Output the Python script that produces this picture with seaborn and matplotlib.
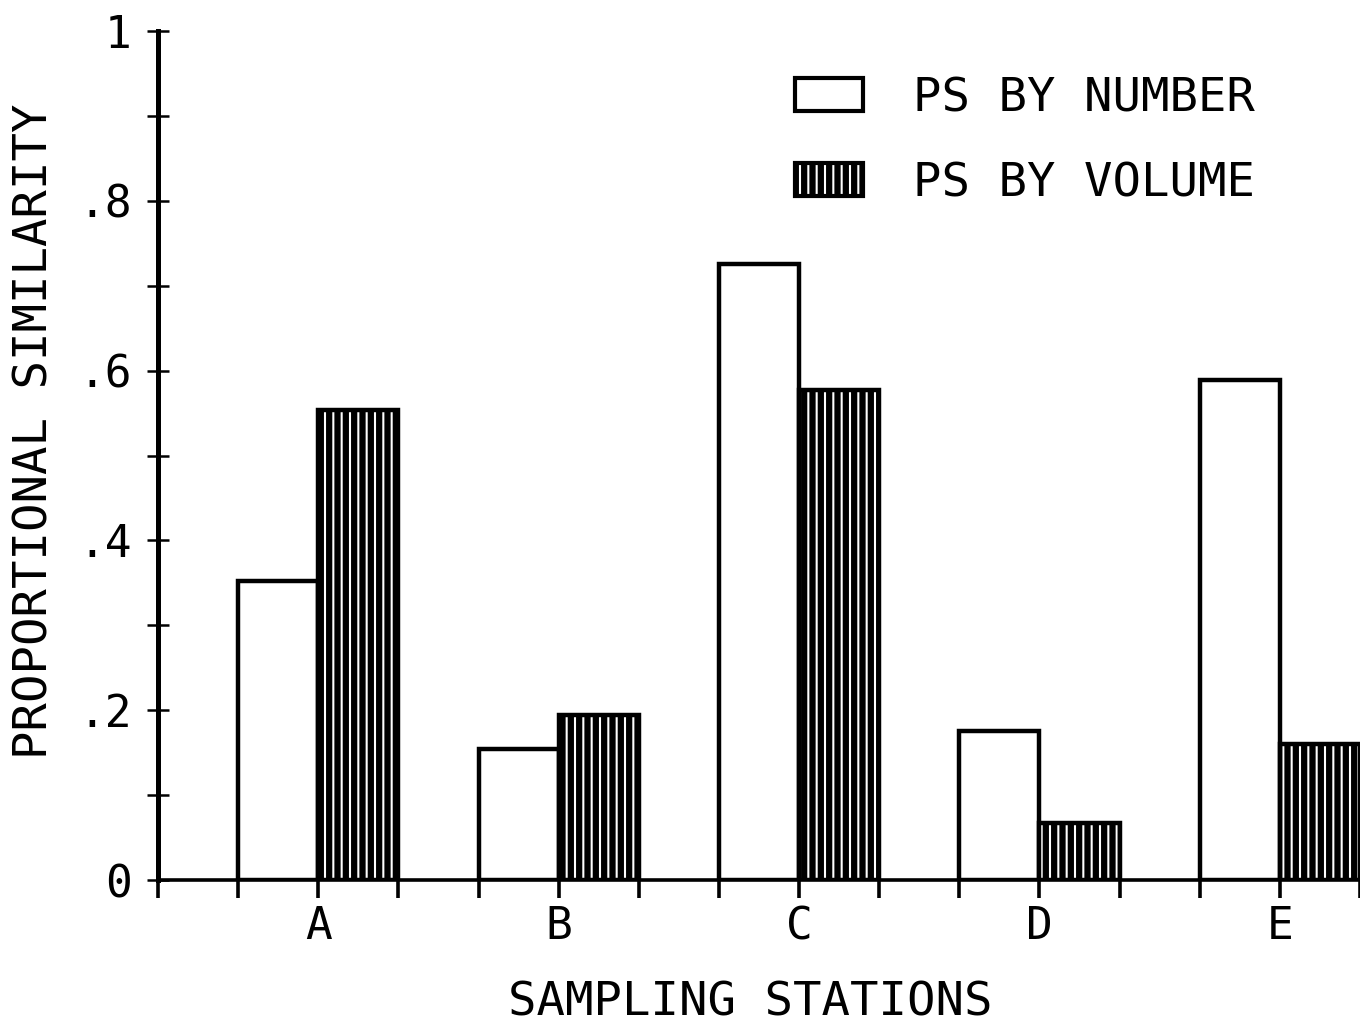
import matplotlib
matplotlib.use("Agg")
import matplotlib.pyplot as plt
from matplotlib.patches import Patch
import seaborn as sns
import pandas as pd
import numpy as np

stations = ["A", "B", "C", "D", "E"]
ps_by_number = [0.352, 0.154, 0.726, 0.175, 0.589]
ps_by_volume = [0.554, 0.194, 0.577, 0.067, 0.160]
series_names = ["PS BY NUMBER", "PS BY VOLUME"]
y_tick_values = [0, 0.2, 0.4, 0.6, 0.8, 1.0]
y_tick_labels = ["0", ".2", ".4", ".6", ".8", "1"]

df = pd.DataFrame({
    "station": stations * 2,
    "measure": [series_names[0]] * len(stations) + [series_names[1]] * len(stations),
    "value": ps_by_number + ps_by_volume,
})

HATCH_LW = 4.5

sns.set_theme(style="white")
plt.rcParams["font.family"] = ["DejaVu Sans Mono", "DejaVu Sans"]
plt.rcParams["hatch.linewidth"] = HATCH_LW
plt.rcParams["hatch.color"] = "black"
plt.rcParams["text.color"] = "black"
plt.rcParams["axes.labelcolor"] = "black"
plt.rcParams["xtick.color"] = "black"
plt.rcParams["ytick.color"] = "black"

fig = plt.figure(figsize=(13.6, 10.29), dpi=100)
ax = fig.add_axes([158 / 1360, 149 / 1029, 1 - 158 / 1360, (880 - 31) / 1029])

sns.barplot(data=df, x="station", y="value", hue="measure", order=stations,
            hue_order=series_names, palette={series_names[0]: "white", series_names[1]: "white"},
            width=2 / 3, dodge=True, gap=0, edgecolor="black", linewidth=3.2,
            saturation=1, legend=False, ax=ax)

for patch in ax.containers[1]:
    patch.set_hatch("||")
    if hasattr(patch, "set_hatch_linewidth"):
        patch.set_hatch_linewidth(HATCH_LW)

ax.set_xlim(-2 / 3, 4 + 1 / 3)
ax.set_ylim(0, 1)

# x ticks at every bar edge, labels at station centres
xt = [-2 / 3 + k / 3 for k in range(16)]
xl = [""] * 16
for i, s in enumerate(stations):
    xl[3 * i + 2] = s
ax.set_xticks(xt)
ax.set_xticklabels(xl)
ax.tick_params(axis="x", which="major", direction="out", length=13, width=2.6,
               color="black", labelcolor="black", labelsize=32, pad=5, bottom=True)

ax.set_yticks(y_tick_values)
ax.set_yticklabels(y_tick_labels)
ax.set_yticks([0.1, 0.3, 0.5, 0.7, 0.9], minor=True)
ax.tick_params(axis="y", which="both", direction="inout", length=16, width=1.8,
               color="black", labelcolor="black", labelsize=32, pad=11, left=True)

for side in ["top", "right"]:
    ax.spines[side].set_visible(False)
ax.spines["left"].set_linewidth(3.6)
ax.spines["bottom"].set_linewidth(2.6)
ax.spines["left"].set_color("black")
ax.spines["bottom"].set_color("black")

ax.set_xlabel("SAMPLING STATIONS", fontsize=34, color="black")
ax.set_ylabel("PROPORTIONAL SIMILARITY", fontsize=34, color="black")
ax.xaxis.set_label_coords(0.4925, -0.118)
ax.yaxis.set_label_coords(-0.084, 0.529)

handles = [Patch(facecolor="white", edgecolor="black", linewidth=3.0, label=series_names[0]),
           Patch(facecolor="white", edgecolor="black", linewidth=3.0, hatch="||", label=series_names[1])]
leg = fig.legend(handles=handles, loc="upper left", bbox_to_anchor=(795 / 1360, (1029 - 76) / 1029),
                 frameon=False, fontsize=34, handlelength=1.45, handleheight=0.68,
                 handletextpad=1.05, labelspacing=0.85, borderpad=0, borderaxespad=0,
                 labelcolor="black")
for h in leg.legend_handles:
    if hasattr(h, "set_hatch_linewidth"):
        h.set_hatch_linewidth(HATCH_LW)

fig.savefig("out.png", dpi=100, facecolor="white")
